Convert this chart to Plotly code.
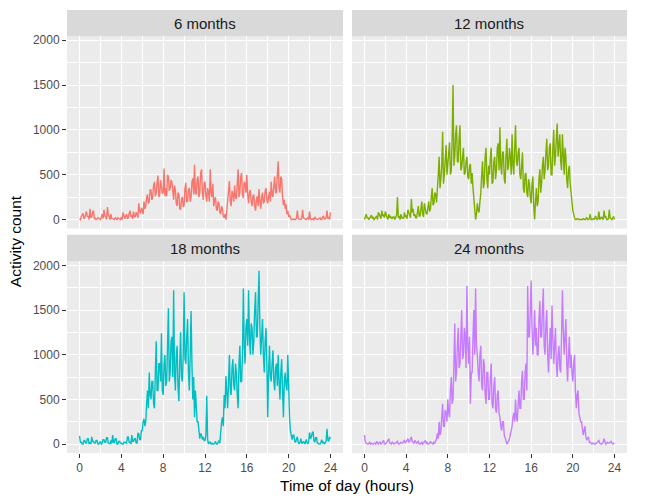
import plotly.graph_objects as go

# time of day (hours), 5-minute steps
hours = [i * 5 / 60 for i in range(289)]

panels = ["6 months", "12 months", "18 months", "24 months"]

m6 = [10, 0, 30, 50, 70, 10, 20, 60, 90, 30, 40, 0,
      120, 20, 30, 80, 100, 10, 15, 0, 5, 20, 10, 0,
      0, 30, 60, 10, 110, 40, 30, 0, 140, 60, 20, 0,
      60, 10, 10, 0, 0, 20, 5, 0, 20, 10, 0, 0,
      30, 0, 80, 20, 10, 40, 60, 10, 20, 70, 100, 30,
      40, 10, 90, 30, 30, 80, 60, 20, 180, 90, 70, 130,
      110, 60, 200, 120, 150, 250, 280, 180, 200, 330, 330, 220,
      250, 380, 420, 260, 300, 410, 490, 250, 280, 440, 380, 290,
      300, 570, 260, 350, 260, 500, 480, 320, 350, 440, 420, 250,
      220, 380, 330, 180, 150, 300, 280, 120, 110, 230, 250, 140,
      160, 350, 410, 200, 200, 330, 350, 200, 250, 420, 460, 280,
      610, 300, 280, 450, 480, 250, 300, 520, 560, 300, 220, 400,
      420, 260, 200, 350, 300, 200, 560, 300, 250, 400, 150, 220,
      250, 120, 100, 200, 180, 80, 60, 150, 120, 40, 20, 60,
      0, 100, 200, 300, 430, 200, 150, 320, 280, 200, 380, 250,
      230, 400, 560, 250, 300, 480, 520, 280, 240, 420, 400, 300,
      500, 280, 180, 300, 330, 200, 150, 260, 280, 150, 100, 220,
      260, 150, 340, 200, 120, 250, 300, 180, 200, 320, 350, 220,
      180, 260, 310, 200, 420, 280, 250, 380, 480, 300, 300, 500,
      650, 350, 300, 480, 450, 250, 160, 220, 120, 170, 60, 100,
      30, 50, 10, 0, 0, 5, 5, 0, 0, 20, 100, 10,
      5, 0, 0, 10, 110, 20, 10, 0, 0, 10, 20, 0,
      90, 10, 0, 5, 10, 0, 30, 10, 0, 0, 5, 10,
      20, 0, 0, 30, 40, 0, 10, 20, 100, 10, 30, 0,
      80]

m12 = [0, 40, 60, 20, 20, 0, 10, 30, 50, 10, 30, 0,
       10, 30, 40, 0, 80, 60, 30, 10, 100, 40, 50, 20,
       90, 30, 20, 0, 60, 20, 40, 10, 10, 30, 30, 0,
       20, 50, 250, 20, 30, 0, 60, 20, 20, 10, 80, 30,
       40, 10, 110, 60, 50, 20, 230, 80, 120, 40, 60, 20,
       20, 80, 150, 40, 40, 120, 200, 60, 30, 180, 110, 70,
       60, 150, 200, 90, 120, 250, 350, 160, 180, 300, 280, 190,
       320, 500, 700, 350, 450, 600, 980, 400, 500, 750, 830, 500,
       600, 750, 860, 500, 550, 900, 1500, 600, 700, 950, 1050, 650,
       640, 900, 1050, 550, 580, 700, 800, 500, 520, 650, 700, 480,
       450, 600, 620, 400, 520, 350, 250, 100, 0, 60, 180, 100,
       80, 200, 300, 500, 650, 350, 400, 700, 800, 450, 350, 600,
       500, 700, 800, 400, 420, 650, 700, 450, 550, 800, 850, 550,
       1030, 600, 500, 750, 750, 450, 400, 700, 900, 550, 600, 800,
       700, 500, 950, 600, 500, 800, 1050, 650, 600, 750, 800, 500,
       450, 600, 750, 350, 300, 500, 520, 300, 250, 450, 400, 250,
       180, 400, 480, 150, 0, 200, 350, 150, 200, 450, 560, 300,
       400, 600, 700, 450, 550, 750, 900, 550, 600, 800, 850, 500,
       500, 800, 1000, 600, 700, 900, 1070, 700, 800, 950, 650, 550,
       950, 650, 500, 800, 700, 450, 350, 550, 600, 400, 250, 200,
       100, 50, 20, 0, 0, 10, 10, 0, 0, 5, 5, 0,
       10, 0, 0, 10, 20, 0, 5, 10, 60, 0, 0, 10,
       10, 0, 40, 20, 0, 10, 90, 0, 20, 30, 10, 0,
       100, 20, 30, 0, 0, 10, 110, 20, 10, 0, 20, 30,
       0]

m18 = [90, 20, 20, 0, 0, 40, 40, 10, 10, 60, 60, 0,
       20, 0, 80, 30, 30, 10, 10, 40, 40, 0, 0, 20,
       30, 0, 10, 50, 50, 20, 20, 70, 70, 10, 10, 0,
       40, 10, 100, 20, 20, 60, 60, 0, 0, 30, 30, 10,
       10, 0, 0, 20, 20, 10, 10, 80, 80, 20, 20, 0,
       100, 30, 30, 60, 60, 10, 10, 120, 120, 50, 50, 150,
       150, 250, 280, 200, 250, 450, 600, 400, 800, 550, 500, 700,
       700, 450, 400, 800, 1150, 600, 600, 900, 900, 700, 1240, 600,
       550, 900, 1000, 650, 700, 1100, 1520, 700, 800, 1150, 1200, 750,
       1720, 800, 600, 1000, 1100, 650, 480, 900, 1250, 750, 700, 1000,
       1700, 950, 900, 1200, 1400, 800, 600, 1000, 1490, 900, 500, 750,
       300, 600, 450, 250, 250, 150, 60, 120, 100, 50, 80, 40,
       40, 100, 540, 50, 0, 20, 20, 0, 10, 0, 0, 10,
       30, 0, 0, 20, 40, 10, 180, 250, 300, 200, 550, 400,
       760, 500, 400, 700, 1000, 600, 550, 850, 950, 650, 600, 900,
       800, 550, 400, 900, 1100, 700, 700, 1000, 1740, 1100, 900, 1300,
       1400, 1100, 1720, 1200, 1000, 1350, 1300, 1000, 1150, 1500, 1700, 1200,
       1200, 1600, 1940, 1300, 1000, 1200, 1400, 1000, 800, 1150, 1300, 900,
       300, 800, 1100, 750, 700, 900, 1050, 700, 600, 850, 900, 650,
       1000, 700, 500, 800, 950, 600, 300, 700, 800, 650, 600, 1000,
       500, 300, 150, 80, 50, 100, 100, 30, 20, 60, 80, 20,
       0, 20, 60, 10, 10, 30, 20, 0, 50, 10, 0, 30,
       130, 60, 80, 120, 140, 40, 20, 70, 70, 10, 10, 0,
       0, 20, 50, 10, 20, 0, 10, 30, 170, 40, 30, 80,
       60]

m24 = [100, 20, 10, 0, 0, 10, 20, 0, 10, 0, 0, 10,
       10, 0, 30, 10, 0, 20, 20, 0, 10, 30, 40, 0,
       0, 10, 20, 40, 60, 10, 10, 0, 20, 10, 0, 10,
       10, 20, 30, 0, 0, 10, 20, 10, 10, 30, 40, 10,
       20, 40, 60, 20, 30, 50, 80, 30, 20, 10, 40, 20,
       10, 20, 30, 0, 0, 10, 20, 0, 10, 20, 40, 10,
       20, 0, 0, 10, 30, 10, 10, 0, 20, 10, 40, 60,
       120, 60, 250, 100, 150, 300, 450, 200, 200, 380, 350, 250,
       500, 350, 300, 600, 750, 450, 500, 900, 1350, 700, 800, 1100,
       1300, 850, 900, 1200, 1500, 950, 1000, 1300, 1200, 850, 1770, 1100,
       900, 1200, 450, 800, 800, 1200, 1500, 1000, 1740, 1100, 1000, 800,
       700, 1000, 1100, 650, 600, 950, 900, 550, 450, 800, 800, 500,
       500, 750, 900, 450, 400, 650, 750, 400, 350, 550, 600, 350,
       300, 200, 150, 250, 250, 100, 50, 40, 0, 10, 30, 60,
       100, 150, 200, 300, 350, 250, 500, 300, 250, 450, 600, 400,
       400, 700, 820, 500, 500, 800, 900, 600, 1770, 1200, 1200, 1500,
       1830, 1300, 1000, 1200, 1500, 1100, 1300, 1000, 1000, 1400, 1600, 1200,
       1200, 1500, 1740, 1100, 1000, 1350, 1500, 1000, 800, 1100, 1300, 950,
       1550, 1200, 900, 1100, 1300, 900, 750, 1000, 1100, 850, 800, 1200,
       1720, 1300, 1000, 1200, 1400, 900, 700, 1000, 1200, 850, 1000, 800,
       700, 900, 1000, 600, 400, 550, 600, 350, 300, 250, 250, 150,
       100, 150, 200, 80, 50, 60, 80, 20, 20, 10, 0, 10,
       10, 0, 0, 10, 20, 30, 40, 10, 0, 0, 10, 20,
       60, 20, 0, 10, 20, 10, 10, 20, 30, 10, 0, 10,
       10]

series = [m6, m12, m18, m24]
colors = ["#F8766D", "#7CAE00", "#00BFC4", "#C77CFF"]

x_ticks = [0, 4, 8, 12, 16, 20, 24]
y_ticks = [0, 500, 1000, 1500, 2000]

FONT = "Liberation Sans, Arial, sans-serif"

# layout geometry (paper fractions)
xdom = [[0, 0.4929], [0.5089, 1.0]]
ydom_top = [0.5067, 0.941]
ydom_bot = [0.0, 0.4327]
strip_top = [0.941, 1.0]
strip_bot = [0.4327, 0.4926]

fig = go.Figure()
layout = dict(
    width=650, height=504,
    margin=dict(l=67, r=23, t=7, b=51),
    paper_bgcolor="white",
    plot_bgcolor="#EBEBEB",
    showlegend=False,
    font=dict(family=FONT, color="#4D4D4D", size=12),
)

shapes = []
annotations = []
for k in range(4):
    col = k % 2
    row = k // 2
    ax = "" if k == 0 else str(k + 1)
    fig.add_trace(go.Scatter(
        x=hours, y=series[k], mode="lines",
        line=dict(color=colors[k], width=1.4),
        xaxis="x" + ax, yaxis="y" + ax, hoverinfo="skip"))
    ydom = ydom_top if row == 0 else ydom_bot
    sdom = strip_top if row == 0 else strip_bot
    layout["xaxis" + ax] = dict(
        domain=xdom[col], anchor="y" + ax, range=[-1.2, 25.2],
        tickvals=x_ticks, ticktext=[str(v) for v in x_ticks],
        showticklabels=(row == 1), ticks="outside" if row == 1 else "",
        ticklen=4, tickwidth=1, tickcolor="#333333",
        showgrid=True, gridcolor="white", gridwidth=1.1,
        minor=dict(tickvals=[2, 6, 10, 14, 18, 22], showgrid=True,
                   gridcolor="white", gridwidth=0.55),
        zeroline=False, showline=False,
        tickfont=dict(size=12, color="#4D4D4D", family=FONT),
    )
    layout["yaxis" + ax] = dict(
        domain=ydom, anchor="x" + ax, range=[-100, 2045],
        tickvals=y_ticks, ticktext=[str(v) for v in y_ticks],
        showticklabels=(col == 0), ticks="outside" if col == 0 else "",
        ticklen=4, tickwidth=1, tickcolor="#333333",
        showgrid=True, gridcolor="white", gridwidth=1.1,
        minor=dict(tickvals=[250, 750, 1250, 1750], showgrid=True,
                   gridcolor="white", gridwidth=0.55),
        zeroline=False, showline=False,
        tickfont=dict(size=12, color="#4D4D4D", family=FONT),
    )
    shapes.append(dict(type="rect", xref="paper", yref="paper",
                       x0=xdom[col][0], x1=xdom[col][1], y0=sdom[0], y1=sdom[1],
                       fillcolor="#D9D9D9", line=dict(width=0), layer="below"))
    annotations.append(dict(text=panels[k], xref="paper", yref="paper",
                            x=(xdom[col][0] + xdom[col][1]) / 2,
                            y=(sdom[0] + sdom[1]) / 2,
                            xanchor="center", yanchor="middle", showarrow=False,
                            font=dict(size=15, color="#1A1A1A", family=FONT)))

annotations.append(dict(text="Time of day (hours)", xref="paper", yref="paper",
                        x=0.5, y=-0.074, xanchor="center", yanchor="middle",
                        showarrow=False, font=dict(size=15.5, color="black", family=FONT)))
annotations.append(dict(text="Activity count", xref="paper", yref="paper",
                        x=-0.093, y=0.478, xanchor="center", yanchor="middle",
                        textangle=-90, showarrow=False,
                        font=dict(size=15.5, color="black", family=FONT)))

layout["shapes"] = shapes
layout["annotations"] = annotations
fig.update_layout(**layout)
fig.write_html("out.html", config={"displayModeBar": False},
               post_script="document.body.style.margin='0';")
